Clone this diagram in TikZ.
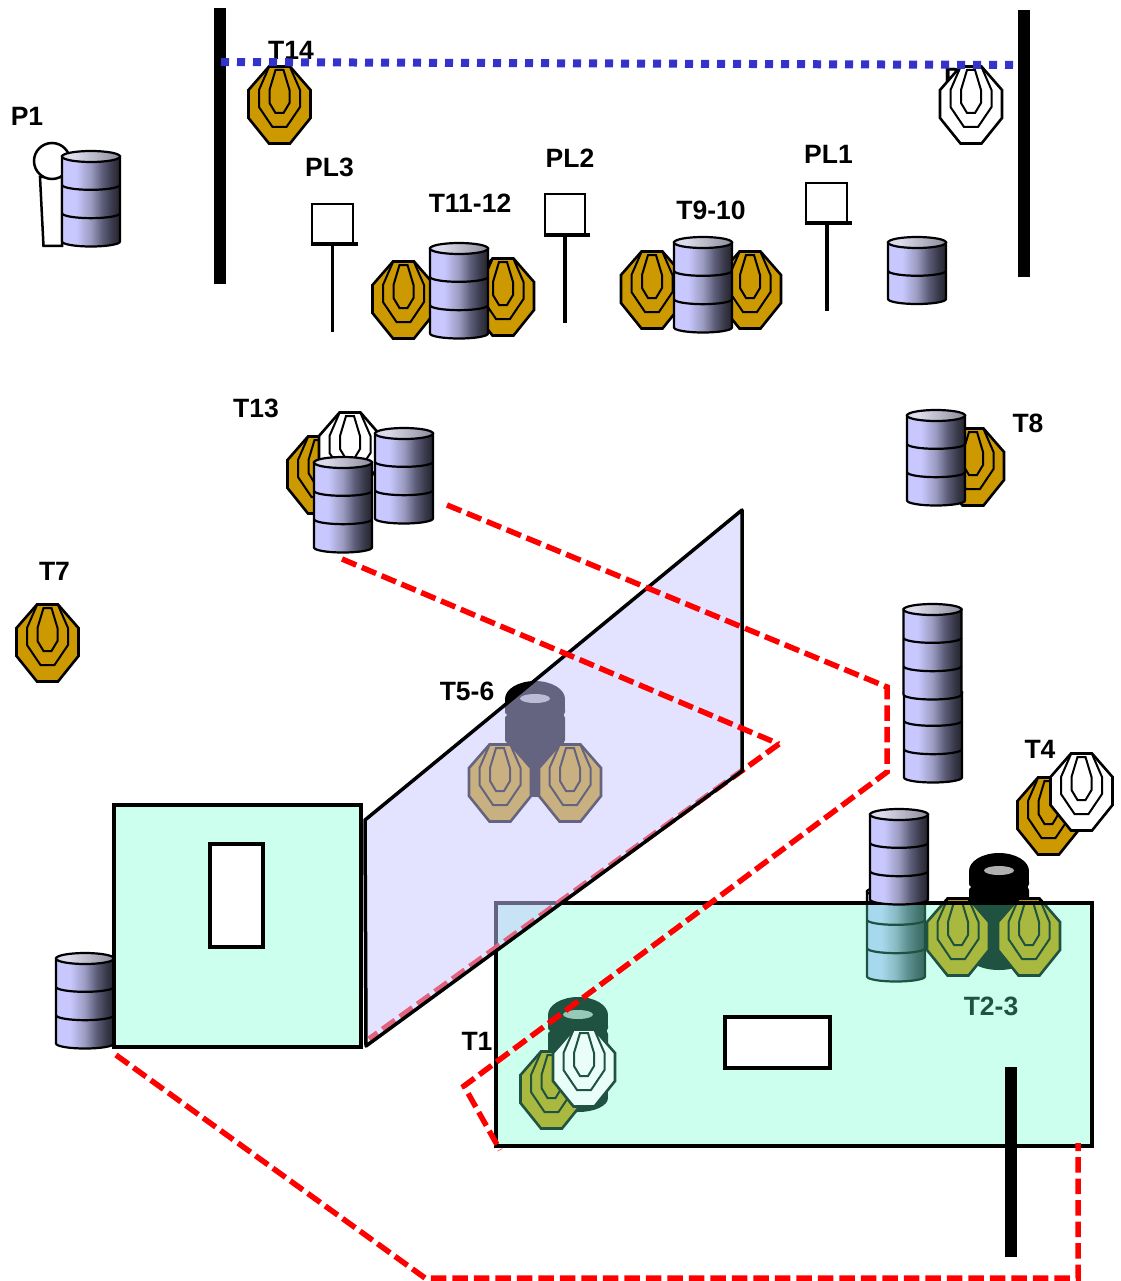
\documentclass[tikz,border=0pt]{standalone}
\usepackage{fontspec}
\setmainfont{Liberation Sans}
\definecolor{goldT}{HTML}{CC9900}
\definecolor{darkG}{HTML}{1F5240}
\definecolor{panelG}{HTML}{61FFC8}
\definecolor{panelL}{HTML}{C8C8FF}
\definecolor{dotB}{HTML}{3333CC}
\definecolor{hiliteG}{HTML}{B0B0B0}
\definecolor{paleT}{HTML}{E9FEF8}
\definecolor{bA}{HTML}{C8C8FF}
\definecolor{bB}{HTML}{9A9AC0}
\definecolor{bC}{HTML}{5C5C78}
\definecolor{bD}{HTML}{363646}
\definecolor{bE}{HTML}{24242E}
\definecolor{tA}{HTML}{DCDCEC}
\definecolor{tB}{HTML}{8C8C9C}
\pgfdeclarehorizontalshading{barrelbody}{100bp}{color(0bp)=(bA);color(37bp)=(bA);color(50bp)=(bB);color(60bp)=(bC);color(69bp)=(bD);color(75bp)=(bE);color(100bp)=(bE)}
\pgfdeclarehorizontalshading{barreltop}{100bp}{color(0bp)=(tA);color(35bp)=(tA);color(75bp)=(tB);color(100bp)=(tB)}
\tikzset{
  lab/.style={font=\fontsize{26.5}{28}\selectfont\bfseries,inner sep=0pt,text=black},
  redline/.style={draw=red,line width=5.5,dash pattern=on 15.5 off 6},
  panelstroke/.style={draw=black,line width=3.5},
  pole/.style={fill=black,draw=none},
  signline/.style={draw=black,line width=3.5},
  signbox/.style={draw=black,line width=2.4,fill=white},
  windowbox/.style={draw=black,line width=3.5,fill=white}
}
% barrel: left, top, height, section count
\newcommand{\drumstack}[4]{%
  \pgfmathsetmacro{\dx}{#1}\pgfmathsetmacro{\dt}{#2+5.5}\pgfmathsetmacro{\db}{#2+#3-5}%
  \pgfmathsetmacro{\dr}{#1+58}\pgfmathsetmacro{\dm}{#1+29}%
  \path[shade,shading=barrelbody,draw=black,line width=2.2]
    (\dx,\dt) -- (\dx,\db) arc[start angle=180,end angle=0,x radius=29,y radius=5] -- (\dr,\dt) -- cycle;
  \foreach \k in {1,...,#4}{%
    \ifnum\k<#4\relax
    \pgfmathsetmacro{\dy}{\dt+(\db-\dt)*\k/#4}%
    \draw[black,line width=2.2] (\dx,\dy) arc[start angle=180,end angle=0,x radius=29,y radius=5];
    \fi}%
  \path[shade,shading=barreltop,draw=black,line width=2.2] (\dm,\dt) ellipse[x radius=29,y radius=5.5];
}
% black barrels: centre x, top, bottom
\newcommand{\blackdrum}[3]{%
  \pgfmathsetmacro{\bl}{#1-30}\pgfmathsetmacro{\br}{#1+30}%
  \pgfmathsetmacro{\bh}{#2+18}\pgfmathsetmacro{\bs}{#2+34}\pgfmathsetmacro{\bu}{#2+62}%
  \pgfmathsetmacro{\be}{#3-14}\pgfmathsetmacro{\bil}{#1-28.5}\pgfmathsetmacro{\bir}{#1+28.5}%
  \fill[black] (\bil,\bh) rectangle (\bir,\be);
  \fill[black] (\bl,\bh) rectangle (\br,\bs-4);
  \fill[black,rounded corners=3] (\bl,\bs-8) rectangle (\br,\bs);
  \fill[black,rounded corners=3] (\bl,\bs) rectangle (\br,\bu);
  \fill[black] (\bl,\bu+4) rectangle (\br,\be);
  \fill[black,rounded corners=3] (\bl,\bu) rectangle (\br,\bu+8);
  \fill[black] (#1,\be) ellipse[x radius=30,y radius=14];
  \fill[black] (#1,\bh) ellipse[x radius=30,y radius=18];
  \pgfmathsetmacro{\bq}{#2+17.5}%
  \fill[hiliteG] (#1,\bq) ellipse[x radius=15,y radius=4.5];
}
% octagonal target: centre, fill, stroke
\newcommand{\octtarget}[4]{%
  \begin{scope}[shift={(#1,#2)},line join=miter]
    \path[fill=#3,draw=#4,line width=2.6] (-10.5,-38.5) -- (10.5,-38.5) -- (31,-15) -- (31,13) -- (10.5,38.5) -- (-10.5,38.5) -- (-31,13) -- (-31,-15) -- cycle;
    \draw[#4,line width=2] (-10.5,-38) -- (-20.5,-15) -- (-20.5,2) -- (-7,22) -- (7,22) -- (20.5,2) -- (20.5,-15) -- (10.5,-38);
    \draw[#4,line width=2] (-4,-35) -- (4,-35) -- (10,-15) -- (10,-2) -- (4,8) -- (-4,8) -- (-10,-2) -- (-10,-15) -- cycle;
  \end{scope}%
}
\begin{document}
\begin{tikzpicture}[x=1pt,y=-1pt]
\useasboundingbox (0,0) rectangle (1120,1281);
\fill[white] (0,0) rectangle (1120,1281);

% labels behind
\node[lab] (lp1) at (27,116.5) {P1};
\node[lab] (lt14) at (291,50.5) {T14};
\node[lab,anchor=west] (lp2) at (944,77.5) {P};
\node[lab] (lpl3) at (329.5,167.5) {PL3};
\node[lab] (lt1112) at (470,203.5) {T11-12};
\node[lab] (lpl2) at (570,158.5) {PL2};
\node[lab] (lt910) at (711,210.5) {T9-10};
\node[lab] (lpl1) at (828.5,154.5) {PL1};
\node[lab] (lt13) at (256,408.5) {T13};
\node[lab] (lt8) at (1028,423.5) {T8};
\node[lab] (lt7) at (54.5,571.5) {T7};
\node[lab] (lt56) at (467,691.5) {T5-6};
\node[lab] (lt4) at (1040,749.5) {T4};
\node[lab] (lt23) at (991,1006.5) {T2-3};
\node[lab] (lt1) at (477,1041.5) {T1};

% poles
\path[pole] (214,8) rectangle (225.5,283.5);
\path[pole] (1018,10) rectangle (1029.5,276.5);

% P1 figure and drum
\path[fill=white,draw=black,line width=2.5] (40,177) -- (43.5,246) -- (62,246) -- (62,177) -- cycle;
\path[fill=white,draw=black,line width=2.5] (52,161) circle[radius=18];
\drumstack{62}{151}{95.5}{3}

% top targets
\octtarget{279.5}{105}{goldT}{black}
\octtarget{971}{105}{white}{black}

% signs
\path[signbox] (312,204) rectangle (353,243);
\draw[signline] (311,244) -- (358,244);
\draw[signline] (332.5,244) -- (332.5,332);
\path[signbox] (545,194) rectangle (585,234);
\draw[signline] (544,235) -- (590,235);
\draw[signline] (565,235) -- (565,323);
\path[signbox] (806,183) rectangle (847,222);
\draw[signline] (805,223) -- (852,223);
\draw[signline] (827,223) -- (827,311);

% upper barricade groups
\octtarget{403.5}{300}{goldT}{black}
\octtarget{503}{297}{goldT}{black}
\drumstack{430}{243}{95.5}{3}
\octtarget{652}{290}{goldT}{black}
\octtarget{750}{290}{goldT}{black}
\drumstack{674}{237}{95.5}{3}
\drumstack{888}{237}{67}{2}

% T13, T8, T7
\octtarget{318.5}{475}{goldT}{black}
\octtarget{350}{451}{white}{black}
\drumstack{375}{428}{95.5}{3}
\drumstack{314}{457}{95.5}{3}
\octtarget{973}{467}{goldT}{black}
\drumstack{907}{410}{95.5}{3}
\octtarget{47.5}{643}{goldT}{black}

% tall stack, T4
\drumstack{904}{687}{95.5}{3}
\drumstack{903.5}{604}{95.5}{3}
\octtarget{1048.5}{816}{goldT}{black}
\octtarget{1081.5}{792}{white}{black}

% objects under the panels
\blackdrum{535}{681}{797}
\octtarget{500}{783}{goldT}{black}
\octtarget{570}{783}{goldT}{black}
\blackdrum{999}{853}{970}
\octtarget{958}{937}{goldT}{black}
\octtarget{1029}{937}{goldT}{black}
\blackdrum{578}{997}{1112}
\octtarget{551.5}{1090}{goldT}{black}
\drumstack{867}{886}{95.5}{3}
\drumstack{56}{953}{95.5}{3}

% green panels
\path[fill=panelG,fill opacity=.32,panelstroke] (114,805) rectangle (361,1047);
\path[windowbox] (210,844) rectangle (263,947);
\path[fill=panelG,fill opacity=.32,panelstroke] (496,903) rectangle (1092,1146);
\path[windowbox] (725,1017) rectangle (830,1068);
\octtarget{584}{1068}{paleT}{darkG}
\drumstack{870}{809}{95.5}{3}

% line beneath the lavender panel
\coordinate (ra) at (779,744);
\coordinate (rb) at (369,1039);
\draw[redline] (ra) -- (rb);

% lavender panel
\path[fill=panelL,fill opacity=.5,draw=black,line width=3.5,line join=round] (365,820) -- (742,510) -- (742,771) -- (366,1046) -- cycle;

% dashed red outlines
\coordinate (r1) at (342,559);
\draw[redline] (r1) -- (ra);
\coordinate (r2) at (447,505);
\coordinate (r3) at (887,687);
\coordinate (r4) at (887,772);
\coordinate (r5) at (464,1086);
\coordinate (r6) at (500,1150);
\draw[redline] (r2) -- (r3) -- (r4) -- (r5) -- (r6);
\coordinate (r7) at (116,1055);
\coordinate (r8) at (425,1278);
\coordinate (r9) at (1078,1278);
\coordinate (r10) at (1078,1143);
\draw[redline] (r7) -- (r8) -- (r9) -- (r10);

% front pole and dotted line
\path[pole] (1005,1067) rectangle (1016.5,1257);
\coordinate (d1) at (221,62);
\coordinate (d2) at (1015,65);
\draw[dotB,line width=8,dash pattern=on 8 off 8] (d1) -- (d2);
\end{tikzpicture}
\end{document}
